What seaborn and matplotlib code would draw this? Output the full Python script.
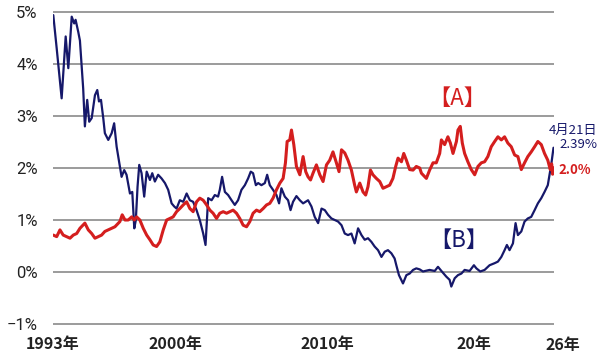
import numpy as np
import pandas as pd
import matplotlib
matplotlib.use('Agg')
import matplotlib.pyplot as plt
import matplotlib.transforms as mtransforms
import seaborn as sns


# DATA

b_years = [
    1993.02, 1993.24, 1993.56, 1993.82, 1993.99, 1994.21, 1994.37, 1994.46,
    1994.63, 1994.74, 1994.95, 1995.06, 1995.21, 1995.34, 1995.50, 1995.71,
    1995.86, 1995.97, 1996.10, 1996.25, 1996.35, 1996.57, 1996.79, 1996.95,
    1997.11, 1997.32, 1997.43, 1997.60, 1997.75, 1997.97, 1998.12, 1998.25,
    1998.35, 1998.46, 1998.57, 1998.72, 1998.89, 1999.05, 1999.26, 1999.41,
    1999.58, 1999.79, 2000.01, 2000.23, 2000.44, 2000.66, 2000.83, 2000.98,
    2001.19, 2001.41, 2001.63, 2001.84, 2002.05, 2002.27, 2002.48, 2002.70,
    2002.85, 2003.02, 2003.24, 2003.45, 2003.66, 2003.77, 2003.92, 2004.10,
    2004.31, 2004.53, 2004.74, 2004.95, 2005.17, 2005.39, 2005.60, 2005.77,
    2005.92, 2006.10, 2006.25, 2006.46, 2006.68, 2006.83, 2007.00, 2007.21,
    2007.43, 2007.60, 2007.75, 2007.97, 2008.18, 2008.34, 2008.50, 2008.72,
    2008.94, 2009.15, 2009.47, 2009.69, 2009.90, 2010.12, 2010.34, 2010.55,
    2010.76, 2010.98, 2011.19, 2011.41, 2011.63, 2011.84, 2012.05, 2012.27,
    2012.48, 2012.70, 2012.92, 2013.13, 2013.34, 2013.56, 2013.77, 2013.99,
    2014.21, 2014.42, 2014.63, 2014.85, 2015.06, 2015.17, 2015.34, 2015.60,
    2015.82, 2016.03, 2016.25, 2016.46, 2016.68, 2016.89, 2017.32, 2017.65,
    2017.86, 2018.08, 2018.40, 2018.61, 2018.72, 2018.94, 2019.15, 2019.37,
    2019.58, 2019.90, 2020.18, 2020.34, 2020.59, 2020.87, 2021.19, 2021.52,
    2021.73, 2021.95, 2022.16, 2022.31, 2022.48, 2022.70, 2022.87, 2023.02,
    2023.24, 2023.45, 2023.66, 2023.88, 2024.10, 2024.31, 2024.53, 2024.74,
    2024.95, 2025.06, 2025.17, 2025.32,
]
b_values = [
    4.94, 4.30, 3.34, 4.53, 3.92, 4.91, 4.78, 4.85,
    4.62, 4.45, 3.53, 2.80, 3.31, 2.89, 2.96, 3.40,
    3.50, 3.28, 3.31, 2.95, 2.67, 2.54, 2.67, 2.86,
    2.41, 2.03, 1.83, 1.96, 1.87, 1.51, 1.54, 0.84,
    1.00, 1.64, 2.06, 1.90, 1.45, 1.93, 1.77, 1.90,
    1.74, 1.87, 1.80, 1.71, 1.58, 1.32, 1.26, 1.22,
    1.38, 1.35, 1.51, 1.38, 1.35, 1.19, 1.00, 0.74,
    0.52, 1.42, 1.38, 1.48, 1.45, 1.58, 1.83, 1.54,
    1.48, 1.38, 1.29, 1.38, 1.58, 1.67, 1.80, 1.93,
    1.90, 1.67, 1.71, 1.67, 1.71, 1.87, 1.67, 1.58,
    1.48, 1.32, 1.61, 1.45, 1.38, 1.19, 1.35, 1.46,
    1.38, 1.32, 1.38, 1.26, 1.06, 0.94, 1.22, 1.19,
    1.10, 1.03, 1.00, 0.97, 0.90, 0.74, 0.71, 0.74,
    0.55, 0.84, 0.71, 0.62, 0.65, 0.58, 0.49, 0.42,
    0.29, 0.39, 0.42, 0.36, 0.26, 0.13, -0.06, -0.22,
    -0.06, -0.03, 0.04, 0.07, 0.05, 0.01, 0.04, 0.02,
    0.10, 0.02, -0.09, -0.15, -0.28, -0.12, -0.06, -0.03,
    0.04, 0.02, 0.13, 0.07, 0.01, 0.04, 0.13, 0.17,
    0.20, 0.29, 0.42, 0.52, 0.42, 0.55, 0.94, 0.71,
    0.78, 0.97, 1.03, 1.06, 1.19, 1.32, 1.42, 1.54,
    1.67, 1.87, 2.06, 2.39,
]

a_years = [
    1993.02, 1993.24, 1993.45, 1993.66, 1993.88, 1994.10, 1994.31, 1994.53,
    1994.74, 1995.06, 1995.28, 1995.50, 1995.71, 1995.92, 1996.14, 1996.35,
    1996.57, 1996.79, 1997.00, 1997.32, 1997.47, 1997.65, 1997.86, 1998.08,
    1998.25, 1998.40, 1998.61, 1998.83, 1999.05, 1999.26, 1999.47, 1999.69,
    1999.90, 2000.12, 2000.34, 2000.55, 2000.76, 2000.98, 2001.19, 2001.41,
    2001.63, 2001.84, 2002.05, 2002.27, 2002.48, 2002.70, 2002.92, 2003.13,
    2003.34, 2003.56, 2003.77, 2003.99, 2004.21, 2004.42, 2004.63, 2004.85,
    2005.06, 2005.28, 2005.50, 2005.71, 2005.92, 2006.14, 2006.35, 2006.57,
    2006.79, 2007.00, 2007.21, 2007.43, 2007.65, 2007.86, 2008.01, 2008.12,
    2008.29, 2008.40, 2008.55, 2008.72, 2008.94, 2009.15, 2009.32, 2009.47,
    2009.63, 2009.79, 2010.01, 2010.23, 2010.44, 2010.66, 2010.87, 2011.08,
    2011.30, 2011.47, 2011.63, 2011.84, 2012.05, 2012.27, 2012.48, 2012.59,
    2012.81, 2013.02, 2013.19, 2013.34, 2013.50, 2013.66, 2013.88, 2014.10,
    2014.31, 2014.53, 2014.74, 2014.95, 2015.13, 2015.28, 2015.50, 2015.65,
    2015.82, 2016.03, 2016.25, 2016.46, 2016.68, 2016.79, 2017.11, 2017.32,
    2017.54, 2017.75, 2017.97, 2018.08, 2018.29, 2018.50, 2018.66, 2018.83,
    2019.05, 2019.15, 2019.30, 2019.43, 2019.58, 2019.79, 2020.01, 2020.23,
    2020.44, 2020.66, 2020.87, 2021.08, 2021.30, 2021.52, 2021.73, 2021.95,
    2022.16, 2022.37, 2022.59, 2022.81, 2023.02, 2023.24, 2023.45, 2023.66,
    2023.88, 2024.10, 2024.31, 2024.53, 2024.74, 2024.95, 2025.11, 2025.20,
    2025.26, 2025.32,
]
a_values = [
    0.71, 0.68, 0.81, 0.71, 0.68, 0.65, 0.71, 0.74,
    0.84, 0.94, 0.81, 0.74, 0.65, 0.68, 0.71, 0.78,
    0.81, 0.84, 0.87, 0.97, 1.10, 1.00, 1.00, 1.06,
    1.00, 1.06, 1.00, 0.84, 0.71, 0.62, 0.52, 0.49,
    0.58, 0.81, 1.00, 1.03, 1.06, 1.16, 1.22, 1.29,
    1.35, 1.22, 1.16, 1.35, 1.42, 1.38, 1.29, 1.19,
    1.13, 1.03, 1.13, 1.16, 1.13, 1.16, 1.19, 1.13,
    1.03, 0.90, 0.87, 0.97, 1.13, 1.19, 1.16, 1.22,
    1.29, 1.32, 1.42, 1.58, 1.71, 1.80, 2.10, 2.51,
    2.54, 2.73, 2.45, 2.03, 1.87, 2.22, 1.93, 1.83,
    1.77, 1.90, 2.06, 1.87, 1.74, 2.06, 2.15, 2.31,
    2.10, 1.93, 2.35, 2.29, 2.15, 1.96, 1.67, 1.54,
    1.71, 1.54, 1.48, 1.64, 1.96, 1.87, 1.80, 1.74,
    1.61, 1.64, 1.67, 1.80, 2.03, 2.19, 2.12, 2.28,
    2.15, 1.97, 1.96, 2.03, 2.00, 1.90, 1.80, 1.96,
    2.10, 2.10, 2.28, 2.54, 2.45, 2.60, 2.48, 2.28,
    2.51, 2.73, 2.80, 2.48, 2.28, 2.12, 1.97, 1.87,
    2.03, 2.10, 2.12, 2.22, 2.41, 2.51, 2.60, 2.54,
    2.60, 2.48, 2.41, 2.25, 2.22, 1.97, 2.10, 2.22,
    2.31, 2.41, 2.51, 2.45, 2.28, 2.15, 1.97, 2.08,
    1.88, 2.00,
]

y_ticks = [-1, 0, 1, 2, 3, 4, 5]
y_tick_labels = ['−1%', '0%', '1%', '2%', '3%', '4%', '5%']
x_ticks = [1993, 2000.9, 2010.7, 2020.2]
x_tick_labels = ['1993年', '2000年', '2010年', '20年']
last_tick_label = '26年'
last_tick_pos = 2025.95

RED = '#d41e1e'
NAVY = '#16186a'


df_b = pd.DataFrame({'year': b_years, 'value': b_values})
df_a = pd.DataFrame({'year': a_years, 'value': a_values})

sns.set_style('white')
plt.rcParams['font.family'] = ['Noto Sans CJK JP', 'DejaVu Sans']

fig = plt.figure(figsize=(6, 3.54), dpi=100)
ax = fig.add_axes([0.0883, 0.0774, 0.835, 0.896])

sns.lineplot(data=df_b, x='year', y='value', color=NAVY, linewidth=1.6, ax=ax)
sns.lineplot(data=df_a, x='year', y='value', color=RED, linewidth=2.2, ax=ax)

ax.set_xlim(1993, 2025.35)
ax.set_ylim(-1.05, 5.05)

ax.set_yticks(y_ticks)
ax.set_yticklabels(y_tick_labels, fontsize=12,
                   family=['Roboto', 'Noto Sans CJK JP', 'DejaVu Sans'])
ax.set_xticks(x_ticks)
ax.set_xticklabels(x_tick_labels, fontsize=11.5, fontweight='bold')
ax.tick_params(axis='y', length=0, pad=11, colors='#222222')
ax.tick_params(axis='x', length=0, pad=7, colors='#222222')

ax.grid(axis='y', color='#808080', linewidth=1.1)
ax.grid(axis='x', visible=False)
ax.set_axisbelow(True)
for spine in ax.spines.values():
    spine.set_visible(False)

ax.set_xlabel('')
ax.set_ylabel('')

# last tick label sits past the end of the axis
trans = mtransforms.blended_transform_factory(ax.transData, ax.transAxes)
ax.text(last_tick_pos, -0.058, last_tick_label, transform=trans,
        ha='center', va='center', fontsize=11.5, fontweight='bold',
        color='#222222', clip_on=False)

# series labels
ax.text(2019.1, 3.33, '【A】', color=RED, fontsize=16,
        ha='center', va='center')
ax.text(2019.2, 0.6, '【B】', color=NAVY, fontsize=16,
        ha='center', va='center')

# latest values
ax.text(2026.6, 2.72, '4月21日', color=NAVY, fontsize=9.5,
        ha='center', va='center', clip_on=False)
ax.text(2026.9, 2.45, '2.39%', color=NAVY, fontsize=9.5,
        ha='center', va='center', clip_on=False)
ax.text(2026.7, 1.96, '2.0%', color=RED, fontsize=9.5,
        fontweight='bold', ha='center', va='center', clip_on=False)

fig.savefig('out.png', dpi=100)
